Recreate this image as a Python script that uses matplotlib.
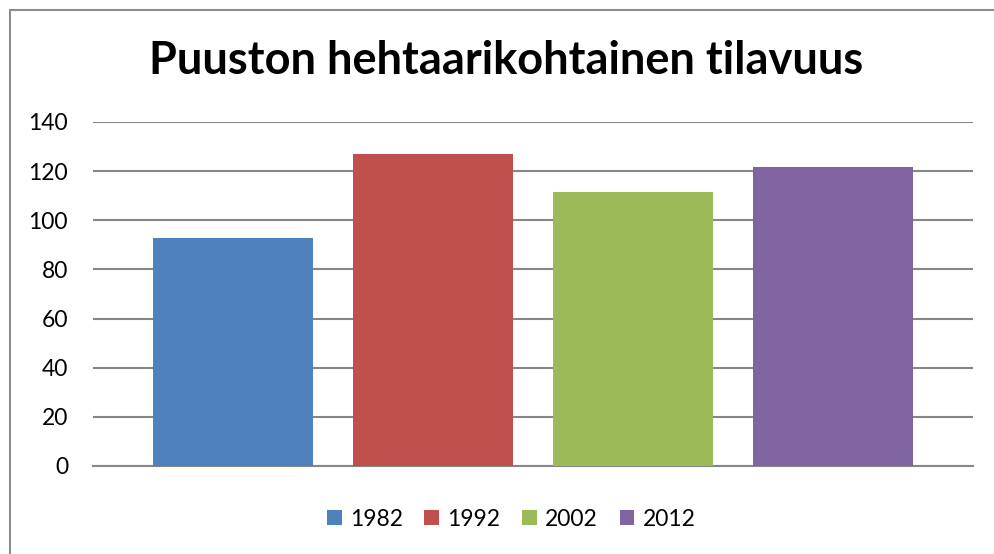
import matplotlib
matplotlib.use("Agg")
import matplotlib.pyplot as plt
from matplotlib.patches import Rectangle

title = "Puuston hehtaarikohtainen tilavuus"
years = ["1982", "1992", "2002", "2012"]
values = [92.8, 127.0, 111.5, 121.7]
colors = ["#4F81BD", "#C0504D", "#9BBB59", "#8064A2"]
yticks = [0, 20, 40, 60, 80, 100, 120, 140]

plt.rcParams['font.family'] = ['Lato', 'DejaVu Sans']

W, H = 994, 554
fig = plt.figure(figsize=(W / 100, H / 100), dpi=100)
fig.patch.set_facecolor("white")

# outer chart border
fig.patches.append(Rectangle((10 / W, -0.01), 1.05, (H - 9.5) / H + 0.01, transform=fig.transFigure,
                             fill=False, edgecolor="#8C8C8C", linewidth=1.5, zorder=0))

ax = fig.add_axes([93 / W, 88 / H, 880 / W, 344 / H])
for i, (y, v, c) in enumerate(zip(years, values, colors)):
    ax.bar(i, v, width=0.8, color=c, label=y, zorder=3)

ax.set_xlim(-0.7, 3.7)
ax.set_ylim(0, 140)
ax.set_yticks(yticks)
ax.set_yticklabels([str(t) for t in yticks], fontsize=16.5)
ax.set_xticks([])
ax.tick_params(axis='y', length=0, pad=18)
ax.grid(axis='y', color="#868686", linewidth=1.5, zorder=0)
for s in ["left", "right", "top"]:
    ax.spines[s].set_visible(False)
ax.spines["bottom"].set_color("#868686")
ax.spines["bottom"].set_linewidth(1.5)

fig.text(506 / W, 1 - 61 / H, title, ha="center", va="center", fontsize=32.5, fontweight="bold")

fig.legend(loc="center", bbox_to_anchor=(511 / W, 1 - 519 / H), ncol=4, frameon=False,
           fontsize=16.5, handlelength=0.65, handleheight=0.65, handletextpad=0.35, columnspacing=0.95)

fig.savefig("out.png", dpi=100, facecolor="white")
